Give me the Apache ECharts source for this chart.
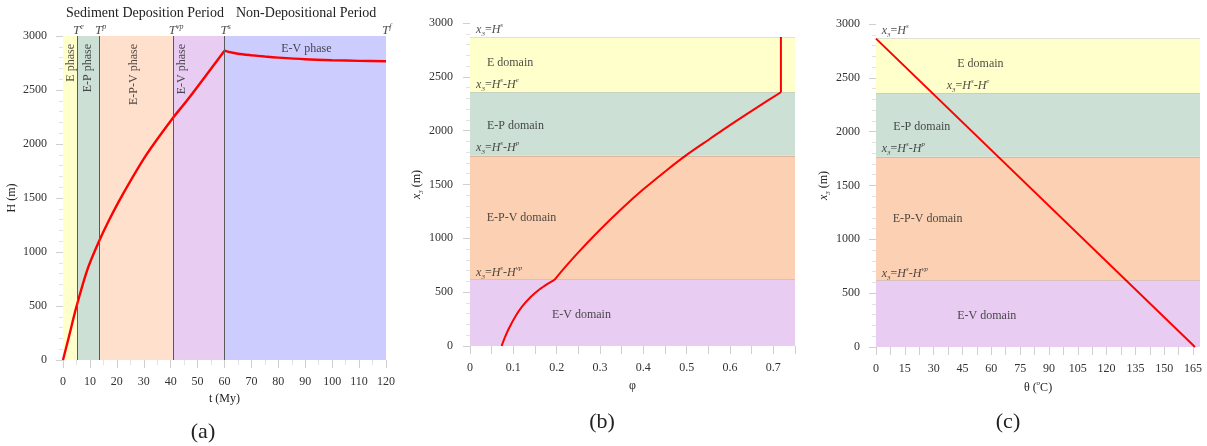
<!DOCTYPE html>
<html><head><meta charset="utf-8">
<script src="https://cdn.jsdelivr.net/npm/echarts@6/dist/echarts.min.js"></script>
<style>html,body{margin:0;padding:0;background:#fff}#c{width:1207px;height:446px}</style>
</head><body><div id="c"></div>
<script>
// ---------------- data ----------------
// (a) burial history H(t)
const tRise = [0, 2.2, 5, 9, 13.3, 17, 22, 30.7, 40.8, 46.2, 60];
const hRise = [0, 216, 494, 833, 1095, 1290, 1525, 1890, 2240, 2407, 2864];
const tDecay = [60, 62, 65, 70, 75, 80, 90, 100, 110, 120];
const hDecay = [2864, 2850, 2836, 2822, 2810, 2800, 2785, 2776, 2770, 2766];
const phaseBounds = [0, 5.2, 13.4, 40.8, 60, 120];
const phaseNames = ['E phase', 'E-P phase', 'E-P-V phase', 'E-V phase', 'E-V phase'];
const phaseMarks = ['e', 'p', 'vp', 's', 'f'];
const periodNames = ['Sediment Deposition Period', 'Non-Depositional Period'];
// (b) porosity profile
const phiLow = [0.073, 0.08, 0.09, 0.104, 0.12, 0.14, 0.16, 0.18, 0.195];
const x3Low = [0, 75, 165, 270, 365, 455, 525, 580, 615];
const phiUp = [0.195, 0.22, 0.25, 0.3, 0.35, 0.4, 0.454, 0.5, 0.554, 0.6, 0.66, 0.7175];
const x3Up = [615, 735, 870, 1080, 1275, 1455, 1633, 1775, 1925, 2052, 2210, 2357];
const phiTop = [0.7175, 0.7175];
const x3Top = [2357, 2870];
// (c) temperature profile
const theta = [0, 166];
const x3Theta = [2864, 0];
// domains (x3 levels)
const domainBounds = [0, 617, 1766, 2357, 2864];
const domainNames = ['E-V domain', 'E-P-V domain', 'E-P domain', 'E domain'];
const boundaryNames = ['H^s-H^vp', 'H^s-H^p', 'H^s-H^e', 'H^s'];
// tick labels
const yTicks = [0, 500, 1000, 1500, 2000, 2500, 3000];
const tTicks = [0, 10, 20, 30, 40, 50, 60, 70, 80, 90, 100, 110, 120];
const phiTickLabels = [0, 0.1, 0.2, 0.3, 0.4, 0.5, 0.6, 0.7];
const phiTickMarks = [0, 0.05, 0.1, 0.15, 0.2, 0.25, 0.3, 0.35, 0.4, 0.45, 0.5, 0.55, 0.6, 0.65, 0.7, 0.75];
const thetaTickLabels = [0, 15, 30, 45, 60, 75, 90, 105, 120, 135, 150, 165];
const thetaTickMarks = [0, 7.5, 15, 22.5, 30, 37.5, 45, 52.5, 60, 67.5, 75, 82.5, 90, 97.5, 105, 112.5, 120, 127.5, 135, 142.5, 150, 157.5, 165];

// ---------------- styles ----------------
const SERIF = '"Liberation Serif","Times New Roman",serif';
const TXT = '#222';
const RICH = {
  r: {fontFamily: SERIF, fontSize: 12, color: TXT, lineHeight: 16},
  i: {fontFamily: SERIF, fontSize: 12, fontStyle: 'italic', color: TXT, lineHeight: 16},
  sub: {fontFamily: SERIF, fontSize: 7, fontStyle: 'italic', color: TXT, verticalAlign: 'bottom'},
  sup: {fontFamily: SERIF, fontSize: 7, fontStyle: 'italic', color: TXT, verticalAlign: 'top'},
  T: {fontFamily: SERIF, fontSize: 13, fontStyle: 'italic', color: TXT, lineHeight: 16},
  Ts: {fontFamily: SERIF, fontSize: 8, fontStyle: 'italic', color: TXT, verticalAlign: 'top'}
};
const phaseColors = ['#FFFFCC', '#CCE0D6', '#FFE0CC', '#E8CCF2', '#CCCCFF'];
const domainColors = ['#E8CCF2', '#FCD1B3', '#CCE0D6', '#FFFFCC'];
const TICK = '#cfcfcf', MINOR = '#e2e2e2';
const plain = v => String(+(+v).toFixed(3));

function zip(a, b) { return a.map((v, k) => [v, b[k]]); }
function fmtBoundary(s) {
  return s.split('-').map(p => {
    const m = p.split('^');
    return '{i|' + m[0] + '}{sup|' + m[1] + '}';
  }).join('{r|-}');
}
function x3Label(s) { return '{i|x}{sub|3}{r|=}' + fmtBoundary(s); }

function valueAxis(gi, extra) {
  return Object.assign({
    type: 'value', gridIndex: gi,
    axisLine: {show: false},
    splitLine: {show: false},
    axisTick: {show: true, lineStyle: {color: TICK}},
    axisLabel: {fontFamily: SERIF, fontSize: 12, color: '#333', formatter: plain},
    nameLocation: 'middle',
    nameTextStyle: {fontFamily: SERIF, fontSize: 12, color: TXT, rich: RICH}
  }, extra);
}
function yAxisX3(gi, offset, nameGap, margin, name) {
  return valueAxis(gi, {
    min: 0, max: 3000, interval: 500, offset: offset,
    axisTick: {show: true, length: 7, lineStyle: {color: TICK}},
    minorTick: {show: true, splitNumber: 5, length: 4, lineStyle: {color: MINOR}},
    axisLabel: {fontFamily: SERIF, fontSize: 12, color: '#333', margin: margin, customValues: yTicks, formatter: plain},
    name: name, nameGap: nameGap
  });
}

// text annotation series (labels anchored in data coordinates)
function textSeries(gi, items) {
  return {
    type: 'scatter', xAxisIndex: gi, yAxisIndex: gi, symbolSize: 0, silent: true, clip: false, z: 6,
    itemStyle: {color: 'rgba(0,0,0,0)'},
    data: items.map(it => ({
      value: it.at,
      label: Object.assign({
        show: true, position: 'inside', formatter: it.text, rich: RICH,
        fontFamily: SERIF, fontSize: 12, color: TXT,
        align: 'left', verticalAlign: 'middle'
      }, it.label || {})
    }))
  };
}

// ---------------- panel (a) annotations ----------------
const rotatedAt = [2.8, 9.2, 26.3, 44.3];
const aTexts = [];
for (let k = 0; k < 4; k++) {
  aTexts.push({at: [rotatedAt[k], 2926], text: phaseNames[k], label: {rotate: 90, align: 'right'}});
}
aTexts.push({at: [90.4, 2880], text: phaseNames[4], label: {align: 'center'}});
for (let k = 1; k < phaseBounds.length; k++) {
  aTexts.push({at: [phaseBounds[k], 3000], text: '{T|T}{Ts|' + phaseMarks[k - 1] + '}',
    label: {verticalAlign: 'bottom', offset: [-4, 3]}});
}

// ---------------- panel (b)/(c) annotations ----------------
function domainTexts(xs) {
  const out = [];
  out.push({at: [xs.b, 2934], text: x3Label(boundaryNames[3])});
  out.push({at: [xs.eName, 2626], text: domainNames[3]});
  out.push({at: [xs.he, 2430], text: x3Label(boundaryNames[2])});
  out.push({at: [xs.epName, 2047], text: domainNames[2]});
  out.push({at: [xs.b, 1845], text: x3Label(boundaryNames[1])});
  out.push({at: [xs.epvName, 1190], text: domainNames[1]});
  out.push({at: [xs.b, 683], text: x3Label(boundaryNames[0])});
  out.push({at: [xs.evName, 285], text: domainNames[0]});
  return out;
}
const bTexts = domainTexts({b: 0.014, eName: 0.039, he: 0.014, epName: 0.039, epvName: 0.0385, evName: 0.189});
const cTexts = domainTexts({b: 3.0, eName: 42.3, he: 36.8, epName: 9.0, epvName: 8.7, evName: 42.3});

function domainHost(gi) {
  return {
    type: 'line', xAxisIndex: gi, yAxisIndex: gi, data: [], silent: true, z: 1,
    markArea: {
      silent: true, label: {show: false},
      data: domainColors.map((c, k) => [
        {yAxis: domainBounds[k], itemStyle: {color: c, opacity: 1, borderWidth: 0}},
        {yAxis: domainBounds[k + 1]}
      ])
    },
    markLine: {
      silent: true, symbol: ['none', 'none'], label: {show: false},
      lineStyle: {color: 'rgba(0,0,0,0.12)', width: 1, type: 'solid'},
      data: domainBounds.slice(1).map(v => ({yAxis: v}))
    }
  };
}
function redLine(gi, xs, ys, w, smooth) {
  return {
    type: 'line', xAxisIndex: gi, yAxisIndex: gi, data: zip(xs, ys), z: 4,
    showSymbol: false, symbol: 'none', smooth: smooth,
    lineStyle: {color: '#FF0000', width: w}, silent: true
  };
}

const option = {
  animation: false,
  backgroundColor: '#fff',
  grid: [
    {left: 63, top: 36, width: 323, height: 324},
    {left: 470, top: 23, width: 325, height: 323},
    {left: 876, top: 24, width: 324, height: 323}
  ],
  xAxis: [
    valueAxis(0, {
      min: 0, max: 120, interval: 10, offset: 2,
      axisTick: {show: true, length: 8, lineStyle: {color: TICK}},
      minorTick: {show: true, splitNumber: 2, length: 5, lineStyle: {color: MINOR}},
      axisLabel: {fontFamily: SERIF, fontSize: 12, color: '#333', margin: 14, customValues: tTicks, formatter: plain},
      name: 't (My)', nameGap: 27
    }),
    valueAxis(1, {
      min: 0, max: 0.75, offset: 2,
      axisTick: {show: true, length: 8, lineStyle: {color: TICK}, customValues: phiTickMarks},
      axisLabel: {fontFamily: SERIF, fontSize: 12, color: '#333', margin: 14, customValues: phiTickLabels,
        formatter: v => (+v === 0 ? '0' : (+v).toFixed(1))},
      name: 'φ', nameGap: 32
    }),
    valueAxis(2, {
      min: 0, max: 168.6, offset: 2,
      axisTick: {show: true, length: 8, lineStyle: {color: TICK}, customValues: thetaTickMarks},
      axisLabel: {fontFamily: SERIF, fontSize: 12, color: '#333', margin: 14, customValues: thetaTickLabels, formatter: plain},
      name: '{r|θ (}{sup|o}{r|C)}', nameGap: 29
    })
  ],
  yAxis: [
    yAxisX3(0, 6, 39, 10, 'H (m)'),
    yAxisX3(1, 3, 41, 14, '{i|x}{sub|3}{r| (m)}'),
    yAxisX3(2, 4, 40, 12, '{i|x}{sub|3}{r| (m)}')
  ],
  graphic: [
    {type: 'text', left: 140 - 74, top: 6, style: {text: periodNames[0], font: '14px ' + SERIF, fill: TXT}},
    {type: 'text', left: 303 - 67, top: 6, style: {text: periodNames[1], font: '14px ' + SERIF, fill: TXT}},
    {type: 'text', x: 203, y: 432, style: {text: '(a)', font: '22px ' + SERIF, fill: TXT, align: 'center', verticalAlign: 'middle'}},
    {type: 'text', x: 602, y: 422, style: {text: '(b)', font: '22px ' + SERIF, fill: TXT, align: 'center', verticalAlign: 'middle'}},
    {type: 'text', x: 1008, y: 422, style: {text: '(c)', font: '22px ' + SERIF, fill: TXT, align: 'center', verticalAlign: 'middle'}}
  ],
  series: [
    {
      type: 'line', xAxisIndex: 0, yAxisIndex: 0, data: [], silent: true, z: 1,
      markArea: {
        silent: true, label: {show: false},
        data: phaseColors.map((c, k) => [
          {xAxis: phaseBounds[k], itemStyle: {color: c, opacity: 1, borderWidth: 0}},
          {xAxis: phaseBounds[k + 1]}
        ])
      },
      markLine: {
        silent: true, symbol: ['none', 'none'], label: {show: false},
        lineStyle: {color: '#5a5a5a', width: 1, type: 'solid'},
        data: phaseBounds.slice(1, 5).map(v => ({xAxis: v}))
      }
    },
    redLine(0, tRise, hRise, 2.4, 0.3),
    redLine(0, tDecay, hDecay, 2.4, 0.3),
    textSeries(0, aTexts),
    domainHost(1),
    redLine(1, phiLow, x3Low, 2, 0.3),
    redLine(1, phiUp, x3Up, 2, 0.3),
    redLine(1, phiTop, x3Top, 2, false),
    textSeries(1, bTexts),
    domainHost(2),
    redLine(2, theta, x3Theta, 2, false),
    textSeries(2, cTexts)
  ]
};
const chart = echarts.init(document.getElementById('c'), null, {renderer: 'canvas'});
chart.setOption(option);
</script></body></html>
